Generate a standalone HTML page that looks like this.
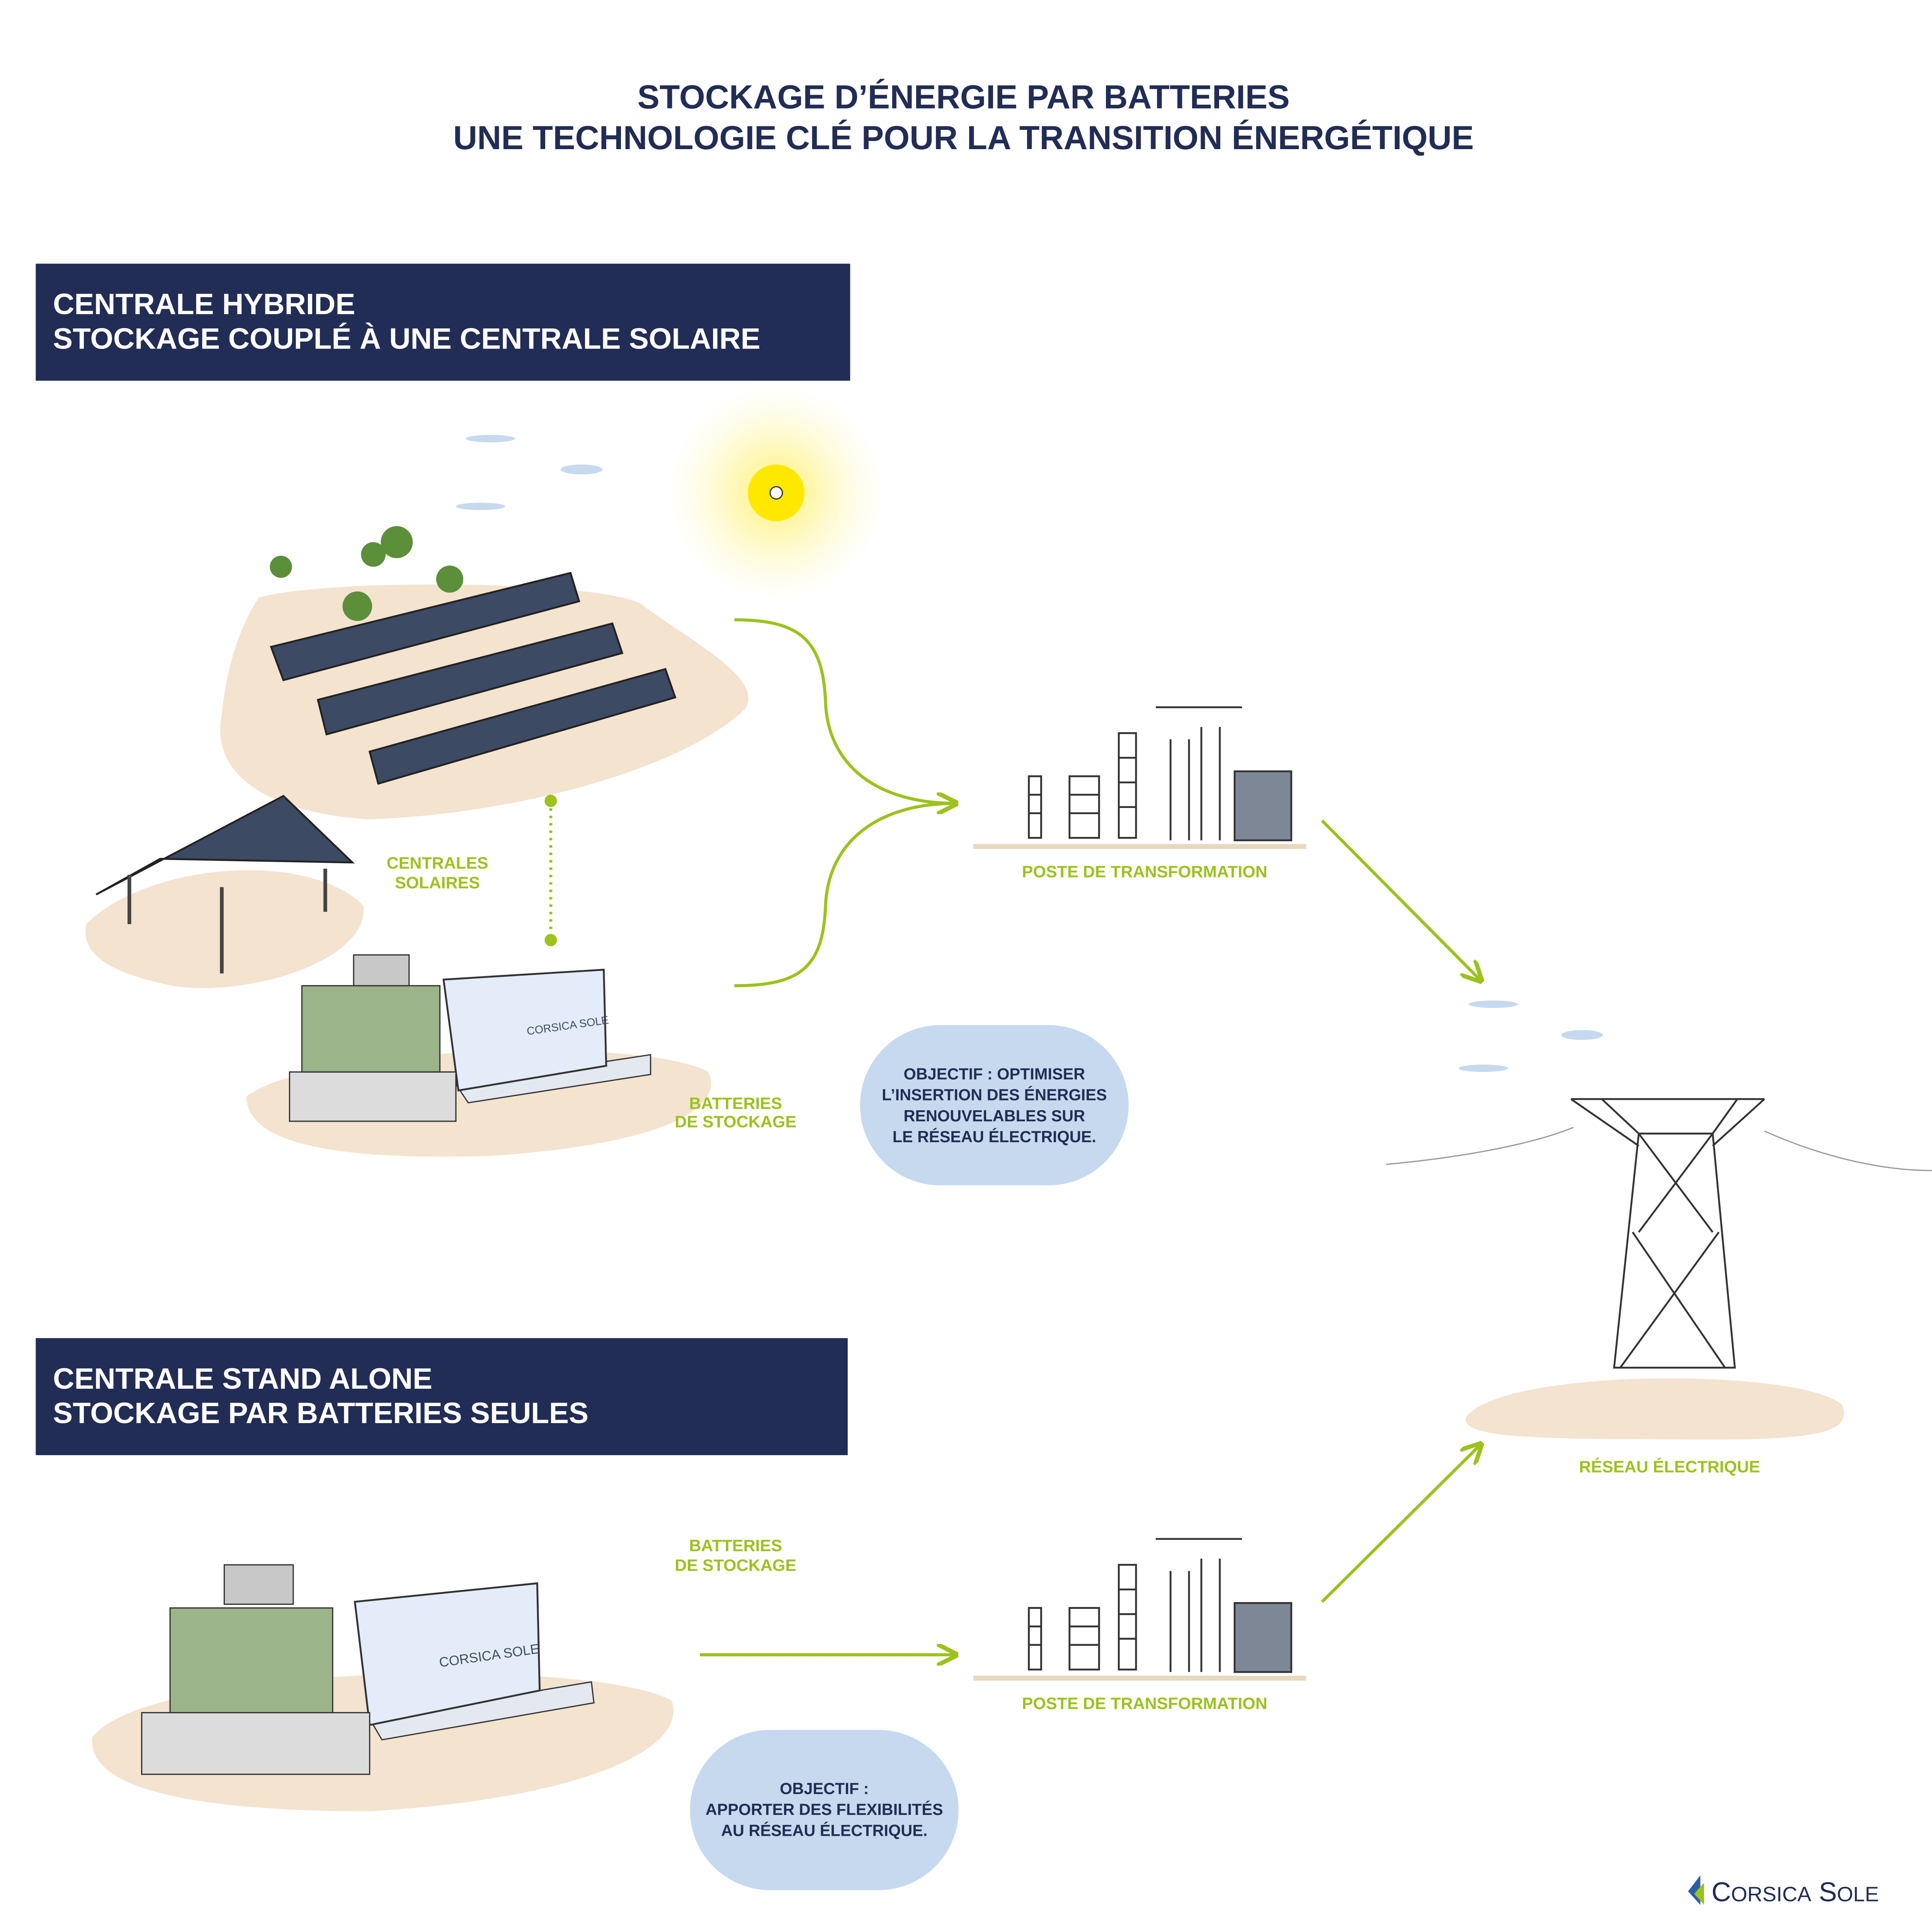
<!DOCTYPE html>
<html><head><meta charset="utf-8"><style>html,body{margin:0;padding:0;background:#fff;width:100vw;height:100vh;overflow:hidden}svg{display:block;width:100vw;height:100vh}</style></head>
<body>
<svg xmlns="http://www.w3.org/2000/svg" viewBox="0 0 1568 1568" preserveAspectRatio="xMidYMid meet" font-family="Liberation Sans, sans-serif">
<defs>
<radialGradient id="sun" cx="0.5" cy="0.5" r="0.5"><stop offset="0" stop-color="#fff27a"/><stop offset="0.4" stop-color="#fff6a8" stop-opacity="0.8"/><stop offset="1" stop-color="#fffbe0" stop-opacity="0"/></radialGradient>
<marker id="ah" viewBox="0 0 10 10" refX="9" refY="5" markerWidth="7" markerHeight="7" orient="auto"><path d="M0,0 L10,5 L0,10" fill="none" stroke="#9bc21d" stroke-width="2"/></marker>
</defs>
<rect width="1568" height="1568" fill="#fff"/>
<g fill="#222d55" font-weight="bold" font-size="27" text-anchor="middle">
<text x="782" y="88">STOCKAGE D’ÉNERGIE PAR BATTERIES</text>
<text x="782" y="121">UNE TECHNOLOGIE CLÉ POUR LA TRANSITION ÉNERGÉTIQUE</text>
</g>
<rect x="29" y="214" width="661" height="95" fill="#222d55"/>
<g fill="#fff" font-weight="bold" font-size="24"><text x="43" y="255">CENTRALE HYBRIDE</text><text x="43" y="283">STOCKAGE COUPLÉ À UNE CENTRALE SOLAIRE</text></g>
<rect x="29" y="1086" width="659" height="95" fill="#222d55"/>
<g fill="#fff" font-weight="bold" font-size="24"><text x="43" y="1127">CENTRALE STAND ALONE</text><text x="43" y="1155">STOCKAGE PAR BATTERIES SEULES</text></g>
<circle cx="630" cy="400" r="90" fill="url(#sun)"/>
<circle cx="630" cy="400" r="23" fill="#ffe800"/>
<circle cx="630" cy="400" r="5" fill="#fff" stroke="#333" stroke-width="1"/>
<g fill="#c6d9ef"><ellipse cx="398" cy="356" rx="20" ry="3"/><ellipse cx="472" cy="381" rx="17" ry="4"/><ellipse cx="390" cy="411" rx="20" ry="3"/><ellipse cx="1212" cy="815" rx="20" ry="3"/><ellipse cx="1284" cy="840" rx="17" ry="4"/><ellipse cx="1204" cy="867" rx="20" ry="3"/></g>
<path d="M210,485 C260,470 480,470 520,490 C560,520 620,550 605,575 C560,620 430,660 300,665 C220,660 170,630 180,580 C185,530 200,500 210,485 Z" fill="#f3e3cf"/>
<g fill="#3d4a63" stroke="#222" stroke-width="1.5">
<polygon points="220,525 463,465 470,488 230,552"/>
<polygon points="258,568 497,506 505,530 265,596"/>
<polygon points="300,610 540,543 548,566 307,636"/>
</g>
<g fill="#5b8f3a"><circle cx="228" cy="460" r="9"/><circle cx="303" cy="450" r="10"/><circle cx="322" cy="440" r="13"/><circle cx="290" cy="492" r="12"/><circle cx="365" cy="470" r="11"/></g>
<path d="M70,750 C120,700 250,690 295,735 C300,780 200,810 140,800 C90,790 65,775 70,750 Z" fill="#f3e3cf"/>
<polygon points="78,726 230,646 286,700 130,697" fill="#3d4a63" stroke="#222" stroke-width="1.5"/>
<g stroke="#444" stroke-width="3"><line x1="105" y1="710" x2="105" y2="750"/><line x1="180" y1="720" x2="180" y2="790"/><line x1="264" y1="705" x2="264" y2="740"/></g>
<line x1="447" y1="650" x2="447" y2="763" stroke="#9bc21d" stroke-width="2.5" stroke-dasharray="2,4"/>
<circle cx="447" cy="650" r="5" fill="#9bc21d"/><circle cx="447" cy="763" r="5" fill="#9bc21d"/>
<path d="M200,890 C250,850 520,840 575,870 C590,905 520,930 400,938 C280,942 200,930 200,890 Z" fill="#f3e3cf"/>
<polygon points="370,880 528,856 528,872 380,895" fill="#e4e8ef" stroke="#333"/>
<polygon points="360,795 490,787 492,865 372,885" fill="#e3ecf8" stroke="#333" stroke-width="1.5"/>
<rect x="235" y="870" width="135" height="40" fill="#dcdcdc" stroke="#333"/>
<rect x="245" y="800" width="112" height="70" fill="#9bb48a" stroke="#333"/>
<rect x="287" y="775" width="45" height="25" fill="#c8c8c8" stroke="#333"/>
<text x="428" y="840" font-size="9" fill="#3d4a63" transform="rotate(-8 428 840)">CORSICA SOLE</text>
<path d="M75,1410 C120,1350 480,1345 545,1380 C560,1420 470,1460 300,1470 C150,1470 70,1450 75,1410 Z" fill="#f3e3cf"/>
<polygon points="300,1395 480,1365 482,1382 310,1412" fill="#e4e8ef" stroke="#333"/>
<polygon points="288,1300 436,1285 438,1372 300,1400" fill="#e3ecf8" stroke="#333" stroke-width="1.5"/>
<rect x="115" y="1390" width="185" height="50" fill="#dcdcdc" stroke="#333"/>
<rect x="138" y="1305" width="132" height="85" fill="#9bb48a" stroke="#333"/>
<rect x="182" y="1270" width="56" height="32" fill="#c8c8c8" stroke="#333"/>
<text x="357" y="1353" font-size="11" fill="#3d4a63" transform="rotate(-8 357 1353)">CORSICA SOLE</text>
<g id="sub" stroke="#333" stroke-width="1.5" fill="none">
<line x1="790" y1="687" x2="1060" y2="687" stroke="#e8d8c0" stroke-width="4"/>
<rect x="835" y="630" width="10" height="50"/><rect x="868" y="630" width="24" height="50"/><rect x="908" y="595" width="14" height="85"/>
<path d="M835,645h10M835,660h10M868,645h24M868,660h24M908,615h14M908,635h14M908,655h14"/>
<line x1="950" y1="600" x2="950" y2="682"/><line x1="965" y1="600" x2="965" y2="682"/><line x1="975" y1="590" x2="975" y2="682"/><line x1="990" y1="590" x2="990" y2="682"/>
<line x1="938" y1="574" x2="1008" y2="574"/>
<rect x="1002" y="626" width="46" height="56" fill="#7d8796"/>
</g>
<use href="#sub" transform="translate(0,675)"/>
<path d="M1190,1150 C1220,1110 1460,1110 1495,1140 C1505,1165 1470,1170 1340,1168 C1230,1168 1185,1165 1190,1150 Z" fill="#f3e3cf"/>
<g stroke="#333" stroke-width="1.5" fill="none">
<polygon points="1330,920 1390,920 1408,1110 1310,1110"/>
<line x1="1330" y1="920" x2="1390" y2="1000"/><line x1="1390" y1="920" x2="1330" y2="1000"/>
<line x1="1325" y1="1000" x2="1400" y2="1110"/><line x1="1395" y1="1000" x2="1315" y2="1110"/>
<line x1="1275" y1="892" x2="1432" y2="892"/><line x1="1275" y1="892" x2="1330" y2="930"/><line x1="1432" y1="892" x2="1390" y2="930"/>
<line x1="1300" y1="892" x2="1330" y2="920"/><line x1="1410" y1="892" x2="1390" y2="920"/>
</g>
<path d="M1125,945 C1180,940 1240,930 1277,915" stroke="#999" fill="none"/>
<path d="M1432,918 C1470,935 1520,950 1568,950" stroke="#999" fill="none"/>
<g stroke="#9bc21d" stroke-width="2.5" fill="none" marker-end="url(#ah)">
<path d="M596,503 C650,503 668,520 670,570 C672,620 710,652 776,652"/>
<path d="M596,800 C650,800 668,785 670,735 C672,685 710,652 776,652"/>
<line x1="1073" y1="666" x2="1202" y2="796"/>
<line x1="1073" y1="1300" x2="1202" y2="1172"/>
<line x1="568" y1="1343" x2="776" y2="1343"/>
</g>
<g fill="#9bc21d" font-weight="bold" font-size="13.5" text-anchor="middle">
<text x="355" y="705">CENTRALES</text><text x="355" y="721">SOLAIRES</text>
<text x="929" y="712">POSTE DE TRANSFORMATION</text>
<text x="597" y="900">BATTERIES</text><text x="597" y="915">DE STOCKAGE</text>
<text x="1355" y="1195">RÉSEAU ÉLECTRIQUE</text>
<text x="597" y="1259">BATTERIES</text><text x="597" y="1275">DE STOCKAGE</text>
<text x="929" y="1387">POSTE DE TRANSFORMATION</text>
</g>
<rect x="698" y="832" width="218" height="130" rx="65" fill="#c6d9ef"/>
<g fill="#222d55" font-weight="bold" font-size="13" text-anchor="middle">
<text x="807" y="876">OBJECTIF :  OPTIMISER</text><text x="807" y="893">L’INSERTION DES ÉNERGIES</text><text x="807" y="910">RENOUVELABLES SUR</text><text x="807" y="927">LE RÉSEAU ÉLECTRIQUE.</text>
</g>
<rect x="560" y="1404" width="218" height="130" rx="65" fill="#c6d9ef"/>
<g fill="#222d55" font-weight="bold" font-size="13" text-anchor="middle">
<text x="669" y="1456">OBJECTIF :</text><text x="669" y="1473">APPORTER DES FLEXIBILITÉS</text><text x="669" y="1490">AU RÉSEAU ÉLECTRIQUE.</text>
</g>
<polygon points="1370,1535 1380,1522 1380,1546" fill="#2a5fa8"/>
<polygon points="1375,1537 1383,1528 1383,1546" fill="#9bc21d"/>
<text x="1389" y="1543" font-size="22" fill="#222d55">C<tspan font-size="17">ORSICA</tspan> S<tspan font-size="17">OLE</tspan></text>
</svg>
</body></html>
